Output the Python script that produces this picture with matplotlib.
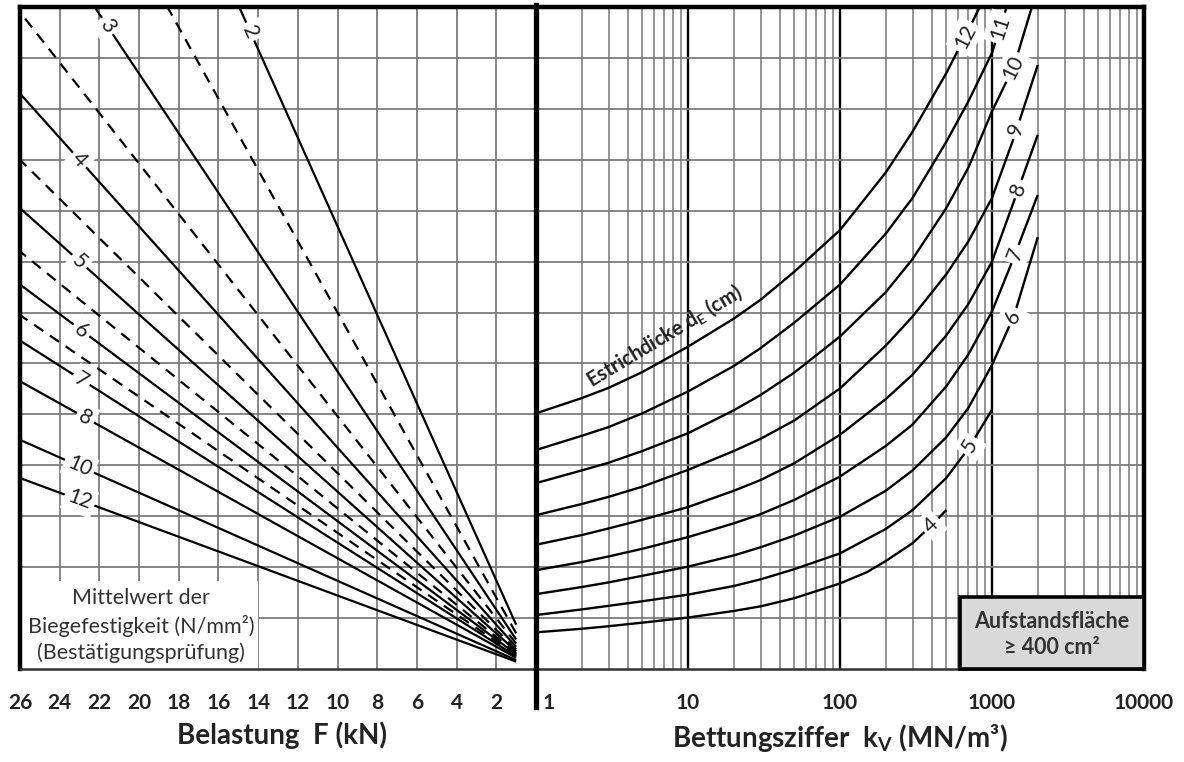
import numpy as np
import matplotlib
matplotlib.use('Agg')
import matplotlib.pyplot as plt
from matplotlib.lines import Line2D
from matplotlib.patches import Rectangle
import matplotlib.transforms as mtransforms

plt.rcParams['font.family'] = ['Lato', 'DejaVu Sans']
plt.rcParams['mathtext.fontset'] = 'custom'
plt.rcParams['mathtext.rm'] = 'Lato'
plt.rcParams['mathtext.bf'] = 'Lato:bold'

# ---- left panel: Mittelwert der Biegefestigkeit (N/mm2) ----
strength = [2, 2.5, 3, 3.5, 4, 4.5, 5, 5.5, 6, 6.5, 7, 8, 10, 12]
is_dashed = [False, True, False, True, False, True, False, True, False, True, False, False, False, False]
y_at_f1 = [0.87, 0.70, 0.58, 0.50, 0.435, 0.385, 0.35, 0.315, 0.29, 0.27, 0.25, 0.22, 0.175, 0.145]
y_at_f26 = [22.6, 18.2, 15.2, 12.9, 11.3, 10.0, 9.05, 8.2, 7.55, 6.95, 6.45, 5.65, 4.5, 3.75]
label_strength = [2, 3, 4, 5, 6, 7, 8, 10, 12]
label_load = [14.4, 21.6, 23.0, 23.0, 22.9, 22.9, 22.7, 23.0, 23.0]
load_ticks = [26, 24, 22, 20, 18, 16, 14, 12, 10, 8, 6, 4, 2]

# ---- right panel: Estrichdicke d_E (cm) vs Bettungsziffer k_V ----
thickness = [4, 5, 6, 7, 8, 9, 10, 11, 12]
curve_k = [
    [1, 2, 3, 5, 10, 20, 30, 50, 100, 150, 200, 300, 400, 500],
    [1, 2, 3, 5, 10, 20, 30, 50, 100, 200, 300, 500, 700, 1000],
    [1, 2, 3, 5, 10, 20, 30, 50, 100, 200, 300, 500, 700, 1000, 1400, 2000],
    [1, 2, 3, 5, 10, 20, 30, 50, 100, 200, 300, 500, 700, 1000, 1400, 2000],
    [1, 2, 3, 5, 10, 20, 30, 50, 100, 200, 300, 500, 700, 1000, 1400, 2000],
    [1, 2, 3, 5, 10, 20, 30, 50, 100, 200, 300, 500, 700, 1000, 1400, 2000],
    [1, 2, 3, 5, 10, 20, 30, 50, 100, 200, 300, 500, 700, 1000, 1400, 1830],
    [1, 2, 3, 5, 10, 20, 30, 50, 100, 200, 300, 500, 700, 1000, 1250],
    [1, 2, 3, 5, 10, 20, 30, 50, 100, 200, 300, 500, 700, 830],
]
curve_y = [
    [0.72, 0.79, 0.84, 0.91, 1.01, 1.14, 1.23, 1.39, 1.68, 1.90, 2.12, 2.47, 2.82, 3.12],
    [1.06, 1.17, 1.24, 1.33, 1.46, 1.63, 1.76, 1.96, 2.27, 2.75, 3.12, 3.75, 4.33, 5.09],
    [1.47, 1.61, 1.70, 1.83, 2.01, 2.23, 2.39, 2.62, 2.99, 3.50, 3.90, 4.55, 5.13, 5.97, 6.95, 8.48],
    [1.94, 2.10, 2.21, 2.36, 2.59, 2.86, 3.04, 3.32, 3.78, 4.38, 4.80, 5.55, 6.18, 7.02, 8.10, 9.31],
    [2.44, 2.63, 2.76, 2.93, 3.18, 3.50, 3.71, 4.04, 4.60, 5.30, 5.78, 6.55, 7.17, 8.00, 9.20, 10.49],
    [3.02, 3.24, 3.38, 3.58, 3.91, 4.28, 4.52, 4.88, 5.51, 6.35, 6.92, 7.75, 8.40, 9.25, 10.45, 11.86],
    [3.65, 3.90, 4.05, 4.28, 4.63, 5.08, 5.38, 5.82, 6.53, 7.40, 8.05, 9.05, 9.85, 10.95, 11.85, 13.0],
    [4.30, 4.58, 4.75, 5.02, 5.45, 5.95, 6.30, 6.80, 7.55, 8.55, 9.25, 10.35, 11.15, 12.10, 13.0],
    [5.02, 5.32, 5.52, 5.83, 6.33, 6.88, 7.25, 7.80, 8.62, 9.75, 10.55, 11.70, 12.55, 13.0],
]
curve_label_k = [400, 717, 1380, 1420, 1490, 1450, 1380, 1130, 664]
kv_ticks = [1, 10, 100, 1000, 10000]

W, H = 1184, 762


def fx(x):
    return x / W


def fy(y):
    return 1 - y / H


fig = plt.figure(figsize=(W / 100, H / 100), dpi=100)
fig.patch.set_facecolor('white')

top, bot = 7, 669
ax1 = fig.add_axes([fx(20), fy(bot), (536 - 20) / W, (bot - top) / H])
ax2 = fig.add_axes([fx(536), fy(bot), (1144 - 536) / W, (bot - top) / H])

grid_gray = '#787878'
text_dark = '#222222'

# left axes
ax1.set_xlim(26, 0)
ax1.set_ylim(0, 13)
ax1.set_xticks(load_ticks)
ax1.set_xticklabels([str(t) for t in load_ticks], fontweight='bold', fontsize=15, color=text_dark)
ax1.set_yticks(range(1, 13))
ax1.tick_params(axis='x', length=0, pad=17)
ax1.tick_params(axis='y', length=0, labelleft=False)
ax1.grid(True, color=grid_gray, lw=1.25, zorder=0)
ax1.set_axisbelow(True)
ax1.spines['left'].set_linewidth(3.2)
ax1.spines['top'].set_linewidth(3.2)
ax1.spines['bottom'].set_linewidth(1.8)
ax1.spines['bottom'].set_color('#333333')
ax1.spines['right'].set_visible(False)

for s, d, y1, y26 in zip(strength, is_dashed, y_at_f1, y_at_f26):
    ln, = ax1.plot([1, 26], [y1, y26], color='black', lw=1.6, zorder=3, solid_capstyle='butt')
    if d:
        ln.set_dashes((5, 3.6))

# white panel behind the legend text
ax1.add_patch(Rectangle((14, 0), 12, 1.72, facecolor='white', edgecolor='none', zorder=2))
for txt, yy in zip(['Mittelwert der', 'Biegefestigkeit (N/mm²)', '(Bestätigungsprüfung)'], [598, 626, 653]):
    fig.text(fx(141), fy(yy), txt, ha='center', va='center', fontsize=15.5, color='#333333')

# labels on the left lines
for s, fl in zip(label_strength, label_load):
    i = strength.index(s)
    slope = (y_at_f26[i] - y_at_f1[i]) / 25.0
    yl = y_at_f1[i] + slope * (fl - 1)
    p0 = ax1.transData.transform((fl, yl))
    p1 = ax1.transData.transform((fl - 1, yl - slope))
    ang = np.degrees(np.arctan2(p1[1] - p0[1], p1[0] - p0[0]))
    ax1.text(fl, yl, '%g' % s, rotation=ang, rotation_mode='anchor', ha='center', va='center',
             fontsize=15, color=text_dark, zorder=4,
             bbox=dict(boxstyle='square,pad=0.18', fc='white', ec='none'))

# right axes
ax2.set_xscale('log')
ax2.set_xlim(1, 10000)
ax2.set_ylim(0, 13)
ax2.set_xticks(kv_ticks)
ax2.set_xticklabels([str(t) for t in kv_ticks], fontweight='bold', fontsize=15, color=text_dark)
ax2.set_yticks(range(1, 13))
ax2.tick_params(axis='x', which='both', length=0, pad=17)
ax2.tick_params(axis='y', length=0, labelleft=False)
ax2.grid(True, axis='y', color=grid_gray, lw=1.25, zorder=0)
ax2.grid(True, axis='x', which='minor', color=grid_gray, lw=1.1, zorder=0)
ax2.grid(True, axis='x', which='major', color='black', lw=1.7, zorder=0.5)
ax2.set_axisbelow(True)
ax2.spines['right'].set_linewidth(3.2)
ax2.spines['top'].set_linewidth(3.2)
ax2.spines['bottom'].set_linewidth(1.8)
ax2.spines['bottom'].set_color('#333333')
ax2.spines['left'].set_visible(False)
lbl1 = ax2.get_xticklabels()[0]
lbl1.set_transform(lbl1.get_transform() + mtransforms.ScaledTranslation(13 / 100, 0, fig.dpi_scale_trans))

for d, ks, ys in zip(thickness, curve_k, curve_y):
    ax2.plot(ks, ys, color='black', lw=1.7, zorder=3, solid_capstyle='butt')

for d, ks, ys, kl in zip(thickness, curve_k, curve_y, curve_label_k):
    lk = np.log10(ks)
    yl = np.interp(np.log10(kl), lk, ys)
    j = min(max(np.searchsorted(lk, np.log10(kl)), 1), len(ks) - 1)
    p0 = ax2.transData.transform((ks[j - 1], ys[j - 1]))
    p1 = ax2.transData.transform((ks[j], ys[j]))
    ang = np.degrees(np.arctan2(p1[1] - p0[1], p1[0] - p0[0]))
    ax2.text(kl, yl, str(d), rotation=ang, rotation_mode='anchor', ha='center', va='center',
             fontsize=15, color=text_dark, zorder=4,
             bbox=dict(boxstyle='square,pad=0.18', fc='white', ec='none'))

fig.text(fx(664), fy(336), r'Estrichdicke d$_\mathbf{E}$ (cm)', rotation=31, ha='center', va='center',
         fontsize=14.5, fontweight='bold', color=text_dark, rotation_mode='anchor')

# Aufstandsflaeche box
ax2.add_patch(Rectangle((617, 0), 10000 - 617, 1.41, facecolor='#d9d9d9', edgecolor='black',
                        lw=2.6, zorder=5, clip_on=False))
fig.text(fx(1052), fy(622), 'Aufstandsfläche', ha='center', va='center', fontsize=15.5,
         fontweight='bold', color='#333333', zorder=6)
fig.text(fx(1052), fy(648), '≥ 400 cm²', ha='center', va='center', fontsize=15.5,
         fontweight='bold', color='#333333', zorder=6)

# divider between the two panels
fig.add_artist(Line2D([fx(536), fx(536)], [fy(5), fy(707)], color='black', lw=3.8,
                      transform=fig.transFigure))

fig.text(fx(282), fy(735), 'Belastung  F (kN)', ha='center', va='center', fontsize=20,
         fontweight='bold', color=text_dark)
fig.text(fx(840), fy(738), r'Bettungsziffer  k$_\mathbf{V}$ (MN/m³)', ha='center', va='center',
         fontsize=20, fontweight='bold', color=text_dark)

fig.savefig('out.png', dpi=100)
